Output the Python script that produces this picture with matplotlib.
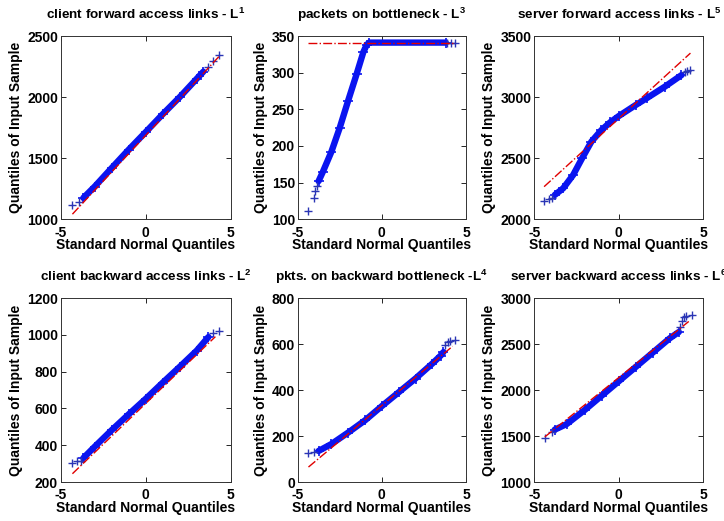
import matplotlib
matplotlib.use("Agg")
import matplotlib.pyplot as plt

plt.rcParams['font.family'] = ['Liberation Sans', 'DejaVu Sans']
plt.rcParams['font.weight'] = 'bold'
plt.rcParams['axes.unicode_minus'] = False
plt.rcParams['mathtext.fontset'] = 'custom'
plt.rcParams['mathtext.rm'] = 'Liberation Sans'
plt.rcParams['mathtext.bf'] = 'Liberation Sans:bold'

# ---------------- data ----------------
titles = ["client forward access links - L$^{\\mathbf{1}}$",
          "packets on bottleneck - L$^{\\mathbf{3}}$",
          "server forward access links - L$^{\\mathbf{5}}$",
          "client backward access links - L$^{\\mathbf{2}}$",
          "pkts. on backward bottleneck -L$^{\\mathbf{4}}$",
          "server backward access links - L$^{\\mathbf{6}}$"]
xlabel_text = "Standard Normal Quantiles"
ylabel_text = "Quantiles of Input Sample"
x_ticks = [-5, 0, 5]

# Panel 1: client forward access links
p1_low_x = [-4.31, -3.90]
p1_low_y = [1115, 1142]
p1_band_x = [-3.67, -3.0, -2.0, -1.0, 0.0, 1.0, 2.0, 3.0, 3.39]
p1_band_y = [1175, 1268, 1420, 1570, 1714, 1860, 2000, 2150, 2208]
p1_high_x = [3.69, 3.94, 4.33]
p1_high_y = [2249, 2295, 2344]
p1_ref_x = [-4.31, 4.33]
p1_ref_y = [1042, 2335]
p1_yticks = [1000, 1500, 2000, 2500]

# Panel 2: packets on bottleneck
p2_low_x = [-4.36, -4.06, -3.96, -3.86]
p2_low_y = [112, 129, 139, 146]
p2_band_x = [-3.76, -3.5, -3.0, -2.5, -2.0, -1.5, -1.1, -0.9, -0.75, 3.80]
p2_band_y = [152, 165, 192, 225, 262, 298, 328, 338, 341, 341]
p2_high_x = [3.90, 4.12, 4.32]
p2_high_y = [341, 341, 341]
p2_ref_x = [-4.36, 4.32]
p2_ref_y = [341, 341]
p2_yticks = [100, 150, 200, 250, 300, 350]

# Panel 3: server forward access links
p3_low_x = [-4.42, -4.12, -3.94]
p3_low_y = [2153, 2166, 2172]
p3_band_x = [-3.79, -3.29, -2.70, -2.17, -1.62, -1.03, -0.5, 0.0, 1.0, 1.64, 2.72, 3.71]
p3_band_y = [2199, 2254, 2363, 2500, 2636, 2730, 2795, 2845, 2935, 2990, 3085, 3180]
p3_high_x = [3.94, 4.06, 4.24]
p3_high_y = [3205, 3210, 3222]
p3_ref_x = [-4.42, 4.24]
p3_ref_y = [2267, 3360]
p3_yticks = [2000, 2500, 3000, 3500]

# Panel 4: client backward access links
p4_low_x = [-4.31, -4.02, -3.82]
p4_low_y = [305, 312, 316]
p4_band_x = [-3.67, -3.0, -2.0, -1.0, 0.0, 1.0, 2.0, 3.0, 3.69]
p4_band_y = [330, 392, 482, 568, 652, 740, 826, 914, 988]
p4_high_x = [3.94, 4.33]
p4_high_y = [1008, 1018]
p4_ref_x = [-4.31, 4.10]
p4_ref_y = [245, 990]
p4_yticks = [200, 400, 600, 800, 1000, 1200]

# Panel 5: pkts. on backward bottleneck
p5_low_x = [-4.36, -4.02]
p5_low_y = [126, 130]
p5_band_x = [-3.76, -3.0, -2.0, -1.0, 0.0, 1.0, 2.0, 3.0, 3.5, 3.66]
p5_band_y = [135, 165, 215, 268, 330, 390, 450, 515, 550, 565]
p5_high_x = [3.76, 3.92, 4.06, 4.36]
p5_high_y = [597, 608, 614, 619]
p5_ref_x = [-4.36, 4.20]
p5_ref_y = [65, 590]
p5_yticks = [0, 200, 400, 600, 800]

# Panel 6: server backward access links
p6_low_x = [-4.38, -3.94]
p6_low_y = [1478, 1543]
p6_band_x = [-3.79, -3.08, -2.0, -1.0, 0.0, 1.0, 2.0, 3.0, 3.55]
p6_band_y = [1569, 1630, 1785, 1940, 2095, 2250, 2405, 2560, 2630]
p6_high_x = [3.62, 3.72, 3.88, 4.00, 4.34]
p6_high_y = [2680, 2745, 2790, 2805, 2812]
p6_ref_x = [-4.38, 4.14]
p6_ref_y = [1490, 2745]
p6_yticks = [1000, 1500, 2000, 2500, 3000]

panels = [
    (p1_low_x, p1_low_y, p1_band_x, p1_band_y, p1_high_x, p1_high_y, p1_ref_x, p1_ref_y, p1_yticks),
    (p2_low_x, p2_low_y, p2_band_x, p2_band_y, p2_high_x, p2_high_y, p2_ref_x, p2_ref_y, p2_yticks),
    (p3_low_x, p3_low_y, p3_band_x, p3_band_y, p3_high_x, p3_high_y, p3_ref_x, p3_ref_y, p3_yticks),
    (p4_low_x, p4_low_y, p4_band_x, p4_band_y, p4_high_x, p4_high_y, p4_ref_x, p4_ref_y, p4_yticks),
    (p5_low_x, p5_low_y, p5_band_x, p5_band_y, p5_high_x, p5_high_y, p5_ref_x, p5_ref_y, p5_yticks),
    (p6_low_x, p6_low_y, p6_band_x, p6_band_y, p6_high_x, p6_high_y, p6_ref_x, p6_ref_y, p6_yticks),
]

# ---------------- layout ----------------
W, H = 724, 521
fig = plt.figure(figsize=(W / 100, H / 100), dpi=100)
lefts = [60.7, 297.7, 534.3]
widths = [170.0, 168.3, 169.0]
tops = [36.0, 298.0]
heights = [183.3, 184.0]

band_color = '#0a14f0'
tail_color = '#2a35b5'

for i, (lx, ly, bx, by, hx, hy, rx, ry, yt) in enumerate(panels):
    r, c = divmod(i, 3)
    ax = fig.add_axes([lefts[c] / W, 1 - (tops[r] + heights[r]) / H,
                       widths[c] / W, heights[r] / H])
    ax.plot(bx, by, color=band_color, lw=4.6, solid_capstyle='round',
            solid_joinstyle='round', zorder=2)
    ax.plot(bx, by, ls='none', marker='+', ms=6.5, mew=1.2, color=band_color, zorder=2)
    ax.plot(lx, ly, ls='none', marker='+', ms=6, mew=1.0, color=tail_color, zorder=3)
    ax.plot(hx, hy, ls='none', marker='+', ms=6, mew=1.0, color=tail_color, zorder=3)
    ax.plot(rx, ry, ls='-.', color='#e00000', lw=1.0, zorder=4)
    ax.set_xlim(-5, 5)
    ax.set_ylim(yt[0], yt[-1])
    ax.set_xticks(x_ticks)
    ax.set_yticks(yt)
    ax.tick_params(direction='in', length=3.5, width=0.6, top=True, right=True,
                   labelsize=10)
    ax.tick_params(axis='x', pad=4.5)
    ax.tick_params(axis='y', pad=2)
    for lab in ax.get_xticklabels() + ax.get_yticklabels():
        lab.set_fontweight('bold')
    for s in ax.spines.values():
        s.set_linewidth(0.7)
        s.set_color('#333333')
    ax.set_xlabel(xlabel_text, fontsize=10, fontweight='bold', labelpad=-1)
    ax.set_ylabel(ylabel_text, fontsize=10, fontweight='bold', labelpad=3)
    ax.set_title(titles[i], fontsize=9.7, fontweight='bold', pad=12)

fig.savefig("out.png", dpi=100, facecolor='white')
